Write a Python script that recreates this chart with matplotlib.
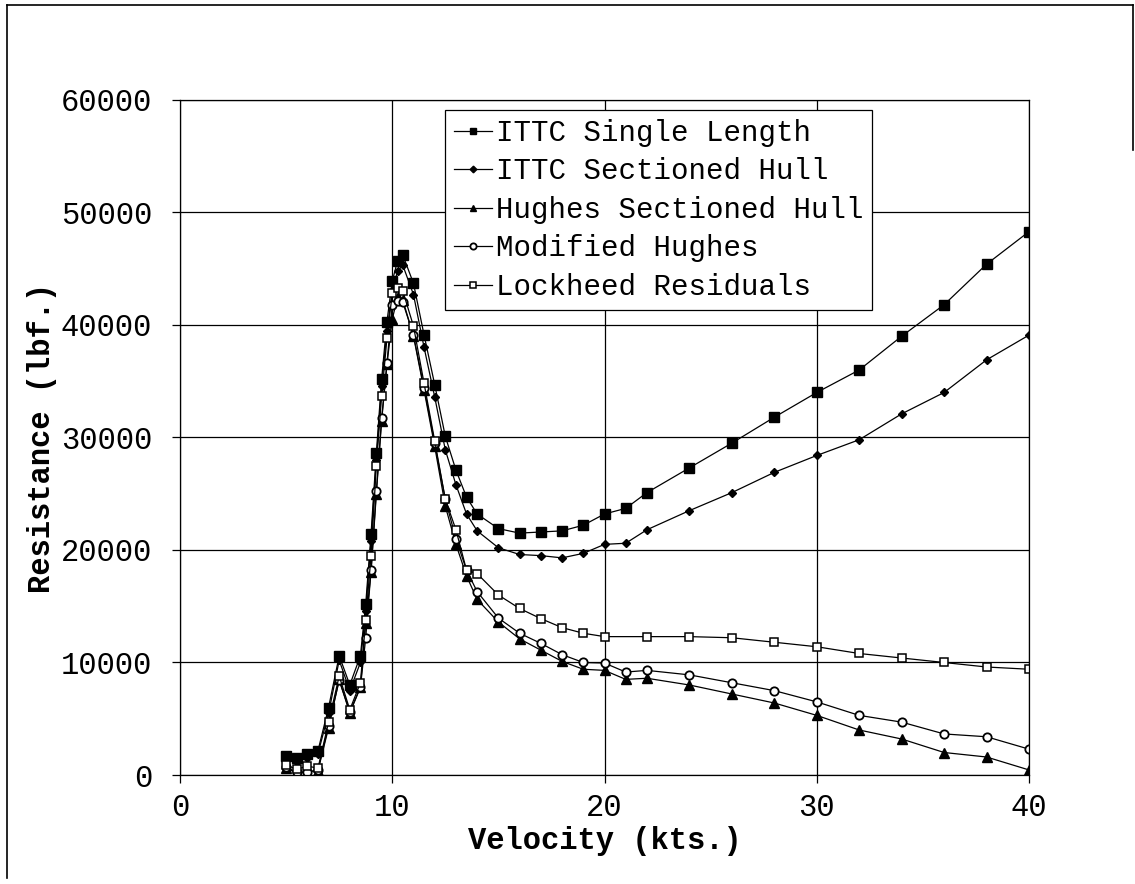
import matplotlib
matplotlib.use("Agg")
import matplotlib.pyplot as plt
from matplotlib.lines import Line2D
import numpy as np

# velocities (kts.)
speeds = [5, 5.5, 6, 6.5, 7, 7.5, 8, 8.5, 8.75, 9, 9.25, 9.5, 9.75, 10,
          10.25, 10.5, 11, 11.5, 12, 12.5, 13, 13.5, 14, 15, 16, 17, 18,
          19, 20, 21, 22, 24, 26, 28, 30, 32, 34, 36, 38, 40]
# lockheed residuals have no point at 21 kts
speeds_lockheed = [v for v in speeds if v != 21]

ittc_single = [1700, 1500, 1850, 2150, 6000, 10600, 8000, 10600, 15200, 21400,
               28600, 35200, 40300, 43900, 45700, 46200, 43700, 39100, 34700,
               30100, 27100, 24700, 23200, 21900, 21500, 21600, 21700, 22200,
               23200, 23700, 25100, 27300, 29500, 31800, 34000, 36000, 39000,
               41800, 45400, 48300]
ittc_sectioned = [1300, 1200, 1500, 1900, 5500, 10200, 7500, 10000, 14600,
                  20800, 28000, 34600, 39500, 43000, 44800, 45300, 42700,
                  38000, 33600, 28900, 25800, 23200, 21700, 20200, 19600,
                  19500, 19300, 19700, 20500, 20600, 21800, 23500, 25100,
                  26900, 28400, 29800, 32100, 34000, 36900, 39100]
hughes_sectioned = [600, 200, 300, 400, 4200, 8500, 5500, 7800, 13500, 18000,
                    25000, 31500, 36500, 40500, 42500, 42200, 39000, 34200,
                    29200, 23900, 20500, 17700, 15600, 13600, 12100, 11100,
                    10100, 9400, 9300, 8500, 8600, 8000, 7200, 6400, 5300,
                    4000, 3200, 2000, 1600, 450]
modified_hughes = [700, 250, 250, 450, 4400, 8400, 5600, 7800, 12200, 18200,
                   25200, 31700, 36600, 41800, 42100, 42000, 39100, 34400,
                   29500, 24500, 21000, 18200, 16300, 13950, 12600, 11700,
                   10700, 10000, 9950, 9150, 9300, 8900, 8200, 7500, 6500,
                   5300, 4700, 3650, 3400, 2300]
lockheed = [900, 500, 800, 600, 4700, 8800, 5800, 8200, 13800, 19500, 27500,
            33700, 38800, 42800, 43300, 43000, 39900, 34800, 29700, 24500,
            21800, 18200, 17900, 16000, 14800, 13900, 13100, 12600, 12300,
            12300, 12300, 12200, 11800, 11400, 10800, 10400, 10000, 9600, 9400]

labels = ["ITTC Single Length", "ITTC Sectioned Hull",
          "Hughes Sectioned Hull", "Modified Hughes", "Lockheed Residuals"]

plt.rcParams['font.family'] = ['Liberation Mono', 'DejaVu Sans']

fig = plt.figure(figsize=(11.35, 8.84), dpi=100)
ax = fig.add_axes([0.1586, 0.1233, 0.748, 0.7636])

lw = 0.9
ax.plot(speeds, ittc_single, color='black', lw=lw, marker='s', ms=6.5,
        mfc='black', mec='black', label=labels[0])
ax.plot(speeds, ittc_sectioned, color='black', lw=lw, marker='D', ms=4.5,
        mfc='black', mec='black', label=labels[1])
ax.plot(speeds, hughes_sectioned, color='black', lw=lw, marker='^', ms=6.5,
        mfc='black', mec='black', label=labels[2])
ax.plot(speeds, modified_hughes, color='black', lw=lw, marker='o', ms=6,
        mfc='white', mec='black', mew=1.3, label=labels[3])
ax.plot(speeds_lockheed, lockheed, color='black', lw=lw, marker='s', ms=6,
        mfc='white', mec='black', mew=1.1, label=labels[4])

ax.set_xlim(0, 40)
ax.set_ylim(0, 60000)
ax.set_xticks(np.arange(0, 41, 10))
ax.set_yticks(np.arange(0, 60001, 10000))
ax.grid(True, color='black', lw=0.9)
ax.set_axisbelow(True)
for s in ax.spines.values():
    s.set_linewidth(0.9)
ax.tick_params(axis='both', direction='out', length=6, width=0.9,
               labelsize=22, color='black')
ax.tick_params(axis='y', pad=14)
ax.tick_params(axis='x', pad=7)

ax.set_xlabel('Velocity (kts.)', fontsize=22, fontweight='bold', labelpad=2)
ax.set_ylabel('Resistance (lbf.)', fontsize=22, fontweight='bold', labelpad=3)

leg = ax.legend(loc='upper left', bbox_to_anchor=(0.312, 0.985),
                borderaxespad=0, fontsize=21, fancybox=False,
                edgecolor='black', framealpha=1, handlelength=1.3,
                handletextpad=0.15, labelspacing=0.36, borderpad=0.3,
                markerscale=0.75)
leg.get_frame().set_linewidth(0.9)

# page frame around the chart
fig.add_artist(Line2D([7 / 1135, 7 / 1135], [1 - 878 / 884, 1 - 5 / 884],
                      color='black', lw=1.2))
fig.add_artist(Line2D([7 / 1135, 1133 / 1135], [1 - 5 / 884, 1 - 5 / 884],
                      color='black', lw=1.2))
fig.add_artist(Line2D([1133 / 1135, 1133 / 1135], [1 - 5 / 884, 1 - 150 / 884],
                      color='black', lw=1.2))

fig.savefig('out.png', dpi=100)
